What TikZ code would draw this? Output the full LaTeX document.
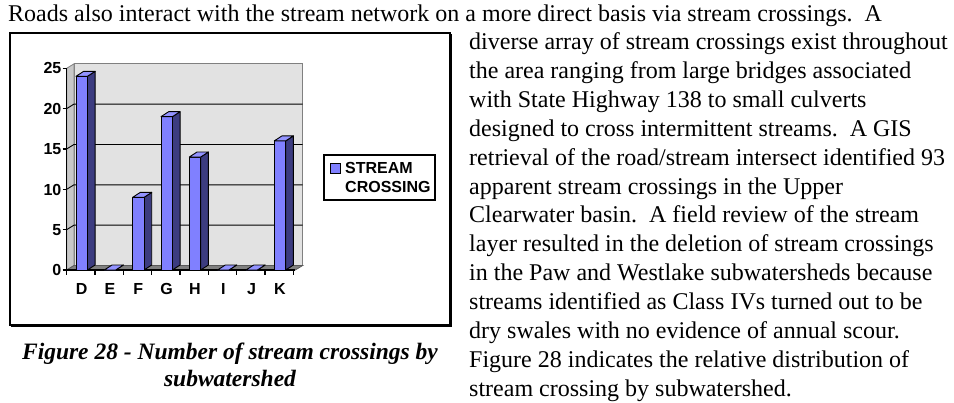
\documentclass[tikz,border=0pt]{standalone}
\usepackage{fontspec}
\setmainfont{Liberation Serif}
\setsansfont{Liberation Sans}
\usetikzlibrary{positioning}
\definecolor{barfront}{RGB}{128,128,255}
\definecolor{barside}{RGB}{60,60,128}
\definecolor{wallgray}{RGB}{226,226,226}
\definecolor{sidegray}{RGB}{200,200,200}
\definecolor{floorgray}{RGB}{128,128,128}
\tikzset{every node/.style={inner sep=0pt},
         bodytext/.style={ % Sets the page text
           font=\fontsize{24}{28.85}\selectfont,
           anchor=base west},
         captiontext/.style={
           font=\bfseries\itshape\fontsize{23.5}{27.5}\selectfont,
           anchor=base},
         chartlabel/.style={ % axis and legend labels
           font=\sffamily\bfseries\fontsize{16}{18.7}\selectfont},
         frontface/.style={fill=barfront, draw=black, line width=0.9pt, line join=round},
         sideface/.style={fill=barside, draw=black, line width=0.9pt, line join=round},
         topface/.style={fill=barfront!85!white, draw=black, line width=0.9pt, line join=round},
         gridline/.style={draw=black, line width=0.9pt},
         chartframe/.style={draw=black, line width=2pt}}

% one column of the 3D chart: #1 centre, #2 number of crossings
\newcommand{\streambar}[2]{%
  \pgfmathsetmacro{\colL}{#1-5.7}
  \pgfmathsetmacro{\colR}{#1+5.7}
  \pgfmathsetmacro{\colT}{270-8.07*#2}
  \draw[sideface] (\colR,270) -- ++(7.7,-5) -- (\colR+7.7,\colT-5) -- (\colR,\colT) -- cycle;
  \draw[frontface] (\colL,270) rectangle (\colR,\colT);
  \draw[topface] (\colL,\colT) -- ++(7.7,-5) -- (\colR+7.7,\colT-5) -- (\colR,\colT) -- cycle;
}

\begin{document}
\begin{tikzpicture}[x=1pt, y=-1pt]
  \useasboundingbox (0,0) rectangle (954,402);

  % text running above and beside the figure
  \node[bodytext] (topline) at (8,21)
    {Roads also interact with the stream network on a more direct basis via stream crossings.\ \ A};
  \node[bodytext] (bodytext) at (469,49.85) {\parbox[t]{490pt}{%
    diverse array of stream crossings exist throughout\\
    the area ranging from large bridges associated\\
    with State Highway 138 to small culverts\\
    designed to cross intermittent streams.\ \ A GIS\\
    retrieval of the road/stream intersect identified 93\\
    apparent stream crossings in the Upper\\
    Clearwater basin.\ \ A field review of the stream\\
    layer resulted in the deletion of stream crossings\\
    in the Paw and Westlake subwatersheds because\\
    streams identified as Class IVs turned out to be\\
    dry swales with no evidence of annual scour.\\
    Figure 28 indicates the relative distribution of\\
    stream crossing by subwatershed.}};

  % figure frame with its shadow
  \draw[chartframe] (10,33) rectangle (450,325);
  \draw[draw=black, line width=1.6pt] (451.6,34) -- (451.6,326.6) -- (11,326.6);

  % walls and floor of the plot
  \fill[wallgray, draw=floorgray, line width=0.8pt] (74,63.8) rectangle (302.7,265.5);
  \fill[sidegray, draw=floorgray, line width=0.8pt] (66.7,68.3) -- (74,63.8) -- (74,265.5) -- (66.7,270) -- cycle;
  \fill[floorgray, draw=floorgray!70!black, line width=0.8pt] (66.7,270) -- (74,265.5) -- (302.7,265.5) -- (295.3,270) -- cycle;

  % gridlines
  \draw[gridline] (66.7,229.65) -- (74,225.15) -- (302.7,225.15);
  \draw[gridline] (66.7,189.3) -- (74,184.8) -- (302.7,184.8);
  \draw[gridline] (66.7,148.95) -- (74,144.45) -- (302.7,144.45);
  \draw[gridline] (66.7,108.6) -- (74,104.1) -- (302.7,104.1);

  % axes and ticks
  \draw[black, line width=1.5pt] (66.7,68.3) -- (66.7,270) -- (295.3,270);
  \foreach \v in {0,5,...,25}
    \draw[black, line width=1.2pt] (62.5,270-8.07*\v) -- (66.7,270-8.07*\v);
  \foreach \t in {0,...,8}
    \draw[black, line width=1.2pt] (66.7+28.33*\t,270) -- (66.7+28.33*\t,274.5);
  \foreach \v in {0,5,...,25}
    \node[chartlabel, anchor=base east] (y\v) at (61.5,275.7-8.07*\v) {\v};
  \foreach \l [count=\i from 0] in {D,E,F,G,H,I,J,K}
    \node[chartlabel, anchor=base] (lab\l) at (81.7+28.33*\i,294.3) {\l};

  % columns
  \streambar{81.7}{24}
  \streambar{110}{0}
  \streambar{138.3}{9}
  \streambar{166.7}{19}
  \streambar{195}{14}
  \streambar{223.3}{0}
  \streambar{251.7}{0}
  \streambar{280}{16}

  % legend
  \draw[black, line width=1.2pt, fill=white] (324,155) rectangle (435,200);
  \draw[black, line width=0.9pt, fill=barfront] (330,163) rectangle (340,173);
  \node[chartlabel, anchor=base west, align=left] (legtext) at (345,173.8)
    {\parbox[t]{88pt}{STREAM\\CROSSING}};

  % caption
  \node[captiontext] (caption) at (230,359) {\parbox[t]{440pt}{\centering
    Figure 28 - Number of stream crossings by\\ subwatershed}};
\end{tikzpicture}
\end{document}
